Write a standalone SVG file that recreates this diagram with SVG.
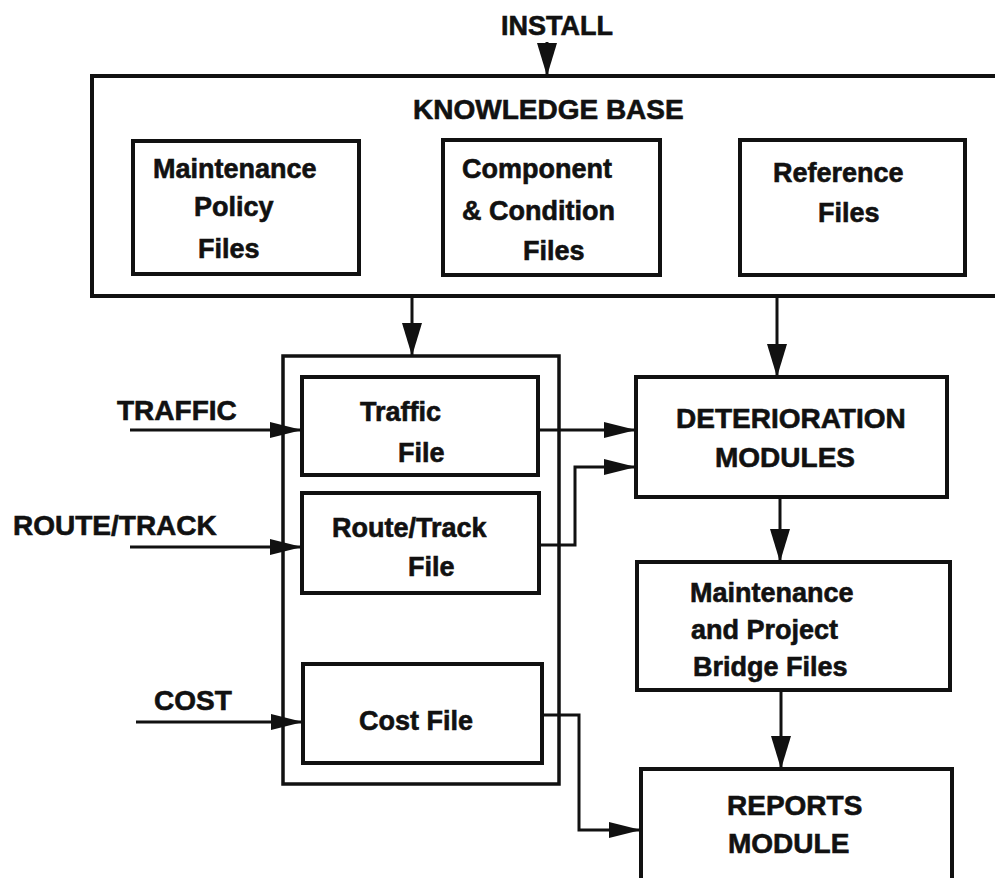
<svg xmlns="http://www.w3.org/2000/svg" width="995" height="878" viewBox="0 0 995 878">
  <style>
    .box { fill: none; stroke: #111; stroke-width: 4; }
    .frame { fill: none; stroke: #111; stroke-width: 3.5; }
    .wire { fill: none; stroke: #111; stroke-width: 3; }
    .lbl { font-family: "Liberation Sans", Arial, Helvetica, sans-serif; font-weight: bold; fill: #111; stroke: #111; stroke-width: 0.6; }
    .cap { font-size: 28px; }
    .mix { font-size: 27px; }
  </style>
  <defs>
    <marker id="arrowH" markerUnits="userSpaceOnUse" markerWidth="34" markerHeight="20" refX="32" refY="9" orient="auto">
      <path d="M0,1 L32,9 L0,17 Z" fill="#111"/>
    </marker>
    <marker id="arrowV" markerUnits="userSpaceOnUse" markerWidth="36" markerHeight="24" refX="33" refY="10" orient="auto">
      <path d="M0,0 L33,10 L0,20 Z" fill="#111"/>
    </marker>
  </defs>
  <rect width="995" height="878" fill="#fff"/>

  <!-- external input label -->
  <g id="install">
    <text class="lbl mix" x="501" y="35">INSTALL</text>
  </g>

  <!-- knowledge base with its three file groups -->
  <g id="knowledge-base">
    <rect class="box" x="92" y="76" width="910" height="220"/>
    <text class="lbl cap" x="413" y="119">KNOWLEDGE BASE</text>
  </g>
  <g id="maintenance-policy-files">
    <rect class="box" x="133" y="141" width="226" height="133"/>
    <text class="lbl mix" x="153" y="178">Maintenance</text>
    <text class="lbl mix" x="194" y="216">Policy</text>
    <text class="lbl mix" x="198" y="258">Files</text>
  </g>
  <g id="component-condition-files">
    <rect class="box" x="443" y="140" width="217" height="135"/>
    <text class="lbl mix" x="462" y="178">Component</text>
    <text class="lbl mix" x="462" y="220">&amp; Condition</text>
    <text class="lbl mix" x="523" y="260">Files</text>
  </g>
  <g id="reference-files">
    <rect class="box" x="740" y="140" width="225" height="135"/>
    <text class="lbl mix" x="773" y="182">Reference</text>
    <text class="lbl mix" x="818" y="222">Files</text>
  </g>

  <!-- input data files -->
  <g id="input-files">
    <rect class="frame" x="283" y="356" width="276" height="428"/>
  </g>
  <g id="traffic-input">
    <text class="lbl cap" x="117" y="420">TRAFFIC</text>
  </g>
  <g id="route-track-input">
    <text class="lbl cap" x="13" y="535">ROUTE/TRACK</text>
  </g>
  <g id="cost-input">
    <text class="lbl cap" x="154" y="710">COST</text>
  </g>
  <g id="traffic-file">
    <rect class="box" x="302" y="377" width="236" height="98"/>
    <text class="lbl mix" x="360" y="421">Traffic</text>
    <text class="lbl mix" x="398" y="462">File</text>
  </g>
  <g id="route-track-file">
    <rect class="box" x="302" y="493" width="237" height="100"/>
    <text class="lbl mix" x="332" y="537">Route/Track</text>
    <text class="lbl mix" x="408" y="576">File</text>
  </g>
  <g id="cost-file">
    <rect class="box" x="303" y="664" width="239" height="99"/>
    <text class="lbl mix" x="359" y="730">Cost File</text>
  </g>

  <!-- processing modules -->
  <g id="deterioration-modules">
    <rect class="box" x="636" y="377" width="311" height="120"/>
    <text class="lbl cap" x="676" y="428">DETERIORATION</text>
    <text class="lbl cap" x="715" y="467">MODULES</text>
  </g>
  <g id="maintenance-project-files">
    <rect class="box" x="637" y="562" width="313" height="128"/>
    <text class="lbl mix" x="690" y="602">Maintenance</text>
    <text class="lbl mix" x="691" y="639">and Project</text>
    <text class="lbl mix" x="693" y="676">Bridge Files</text>
  </g>
  <g id="reports-module">
    <rect class="box" x="641" y="769" width="311" height="130"/>
    <text class="lbl cap" x="727" y="815">REPORTS</text>
    <text class="lbl cap" x="728" y="853">MODULE</text>
  </g>

  <!-- connectors -->
  <g id="connectors">
    <path class="wire" d="M547,42 L547,76" marker-end="url(#arrowV)"/>
    <path class="wire" d="M412,296 L412,356" marker-end="url(#arrowV)"/>
    <path class="wire" d="M777,296 L777,377" marker-end="url(#arrowV)"/>
    <path class="wire" d="M130,430 L302,430" marker-end="url(#arrowH)"/>
    <path class="wire" d="M130,547 L302,547" marker-end="url(#arrowH)"/>
    <path class="wire" d="M136,722 L303,722" marker-end="url(#arrowH)"/>
    <path class="wire" d="M538,430 L636,430" marker-end="url(#arrowH)"/>
    <path class="wire" d="M539,545 L575,545 L575,467 L636,467" marker-end="url(#arrowH)"/>
    <path class="wire" d="M542,715 L579,715 L579,830 L641,830" marker-end="url(#arrowH)"/>
    <path class="wire" d="M780,497 L780,562" marker-end="url(#arrowV)"/>
    <path class="wire" d="M781,690 L781,769" marker-end="url(#arrowV)"/>
  </g>
</svg>
